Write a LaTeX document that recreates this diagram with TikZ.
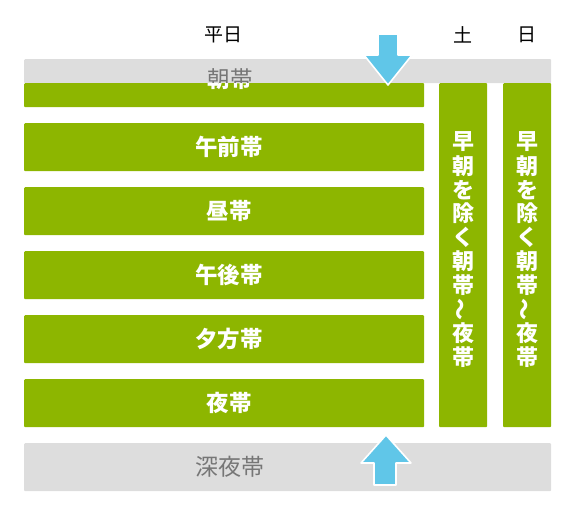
\documentclass[tikz,border=0pt]{standalone}
\usepackage{fontspec}
\setmainfont{Noto Sans CJK JP}
\usepackage{xcolor}
\definecolor{slotgreen}{RGB}{141,182,0}
\definecolor{bandgrey}{RGB}{221,221,221}
\definecolor{arrowblue}{RGB}{96,198,232}
\definecolor{textgrey}{RGB}{118,118,118}

\begin{document}
\begin{tikzpicture}[x=1pt,y=-1pt,
    slot/.style={fill=slotgreen,rounded corners=1pt,anchor=north west,inner sep=0pt},
    band/.style={fill=bandgrey,rounded corners=1pt,anchor=north west,inner sep=0pt},
    slottext/.style={text=white,inner sep=0pt,font=\bfseries\fontsize{22.5}{22.5}\selectfont},
    head/.style={font=\fontsize{19}{19}\selectfont,text=black},
    flow/.style={fill=arrowblue,draw=white,line width=1.6pt,line join=round}]
        \useasboundingbox (0,0) rectangle (584,520);
        % Column headings
        \node[head] (heijitsu) at (223,35) {平日};
        \node[head] (doyou) at (463,35) {土};
        \node[head] (nichiyou) at (527,35) {日};
        % Morning band (grey)
        \node[band,minimum width=527pt,minimum height=24pt] (asaband) at (24,59) {};
        % Weekday slots
        \node[slot,minimum width=400pt,minimum height=24pt] (asa) at (24,83) {};
        \node[slot,minimum width=400pt,minimum height=48pt] (gozen) at (24,123) {};
        \node[slot,minimum width=400pt,minimum height=48pt] (hiru) at (24,187) {};
        \node[slot,minimum width=400pt,minimum height=48pt] (gogo) at (24,251) {};
        \node[slot,minimum width=400pt,minimum height=48pt] (yuugata) at (24,315) {};
        \node[slot,minimum width=400pt,minimum height=48pt] (yoru) at (24,379) {};
        \node[slottext] (gozenlabel) at (229,147) {午前帯};
        \node[slottext] (hirulabel) at (229,211) {昼帯};
        \node[slottext] (gogolabel) at (229,275) {午後帯};
        \node[slottext] (yuugatalabel) at (229,339) {夕方帯};
        \node[slottext] (yorulabel) at (229,403) {夜帯};
        % Weekend slots, text set vertically
        \node[slot,minimum width=48pt,minimum height=344pt] (donichiA) at (439,83) {};
        \node[slot,minimum width=48pt,minimum height=344pt] (donichiB) at (503,83) {};
        \foreach \c [count=\i] in {早,朝,を,除,く,朝,帯,\rotatebox{90}{～},夜,帯} {
          \node[slottext,font=\bfseries\fontsize{22}{22}\selectfont] (satchar-\i) at (463,118+\i*23.9) {\c};
          \node[slottext,font=\bfseries\fontsize{22}{22}\selectfont] (sunchar-\i) at (527,118+\i*23.9) {\c};
        }
        % Late night band
        \node[band,minimum width=527pt,minimum height=48pt] (shinyaband) at (24,443) {};
        \node[text=textgrey,inner sep=0pt,font=\fontsize{23}{23}\selectfont] (shinya) at (230,467) {深夜帯};
        % Morning label, grey over the band and white over the slot
        \node[text=textgrey,inner sep=0pt,font=\fontsize{22.5}{22.5}\selectfont] (asalabel) at (230,79) {朝帯};
        \begin{scope}
          \clip (24,83) rectangle (424,107);
          \node[slottext] (asalabelw) at (230,79) {朝帯};
        \end{scope}
        % Arrows
        \draw[flow] (378,34) -- (398,34) -- (398,55) -- (412,55) -- (388,85)
          -- (364,55) -- (378,55) -- cycle;
        \draw[flow] (386,435) -- (411,463) -- (396,463) -- (396,485)
          -- (374,485) -- (374,463) -- (361,463) -- cycle;
      \end{tikzpicture}
\end{document}
